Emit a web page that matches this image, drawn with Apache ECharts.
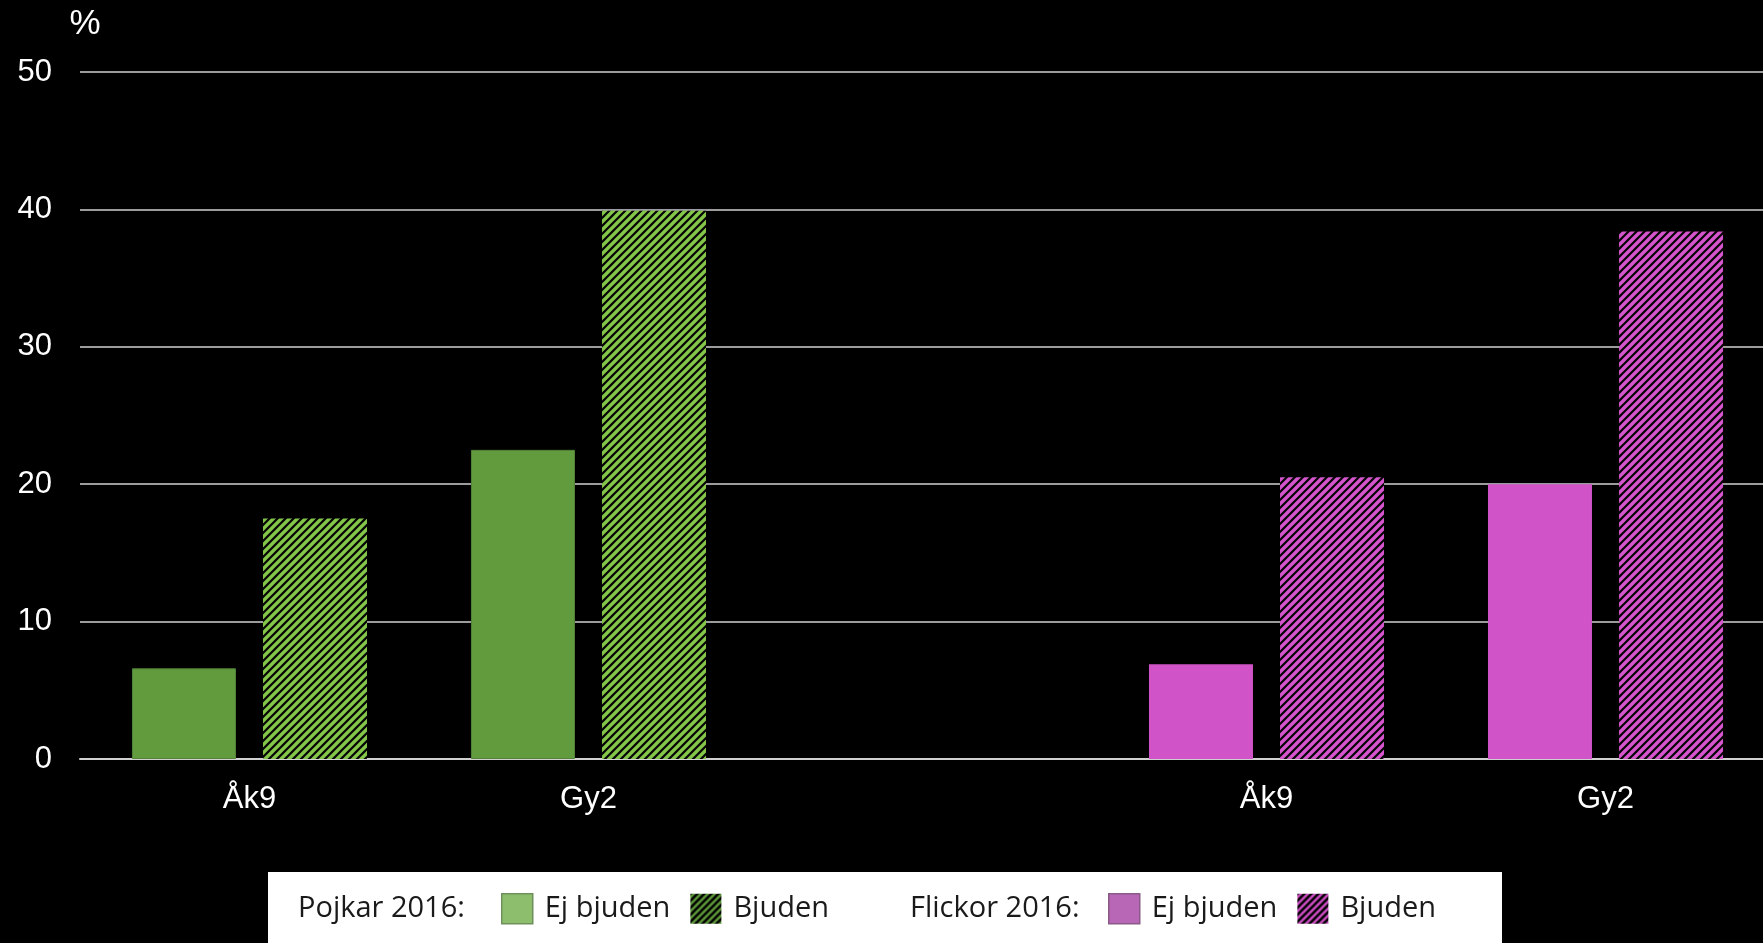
<!DOCTYPE html>
<html>
<head>
<meta charset="utf-8">
<script src="https://cdn.jsdelivr.net/npm/echarts@6/dist/echarts.min.js"></script>
<style>
html,body{margin:0;padding:0;background:#000;overflow:hidden;width:1763px;height:943px;}
#chart{width:1775px;height:943px;}
</style>
</head>
<body>
<div id="chart"></div>
<script>
// ---- data ----
const categories = ['Åk9', 'Gy2', '', 'Åk9', 'Gy2'];
const boysEj     = [6.6, 22.5, null, null, null];
const boysBj     = [17.5, 39.9, null, null, null];
const girlsEj    = [null, null, null, 6.9, 20.0];
const girlsBj    = [null, null, null, 20.5, 38.4];
const legendPrefixes = ['Pojkar 2016:', 'Flickor 2016:'];
const seriesNames = ['Pojkar Ej bjuden', 'Pojkar Bjuden', 'Flickor Ej bjuden', 'Flickor Bjuden'];

// ---- hatch patterns ----
function hatch(fg, bg, size, lw) {
  const c = document.createElement('canvas');
  c.width = size; c.height = size;
  const ctx = c.getContext('2d');
  ctx.fillStyle = bg; ctx.fillRect(0, 0, size, size);
  ctx.strokeStyle = fg; ctx.lineWidth = lw; ctx.lineCap = 'square';
  ctx.beginPath();
  ctx.moveTo(-1, 1); ctx.lineTo(1, -1);
  ctx.moveTo(0, size); ctx.lineTo(size, 0);
  ctx.moveTo(size - 1, size + 1); ctx.lineTo(size + 1, size - 1);
  ctx.stroke();
  return { image: c, repeat: 'repeat' };
}
const greenHatch = hatch('#84c64a', '#050505', 8, 3.4);
const pinkHatch = hatch('#d654cc', '#050505', 8, 3.4);
const greenHatchLeg = hatch('#000000', '#5f9b3a', 7, 2.6);
const pinkHatchLeg = hatch('#000000', '#d04fc7', 7, 2.6);

const axisFont = "'Liberation Sans', Arial, sans-serif";
const legFont = "'Open Sans', sans-serif";

const chart = echarts.init(document.getElementById('chart'));
const legendCommon = {
  orient: 'horizontal',
  itemWidth: 31,
  itemHeight: 30,
  itemGap: 20,
  icon: 'rect',
  selectedMode: false,
  textStyle: { fontFamily: legFont, fontSize: 29, color: '#1a1a1a', padding: [6, 0, 0, 7] },
  formatter: n => n.replace(/^(Pojkar|Flickor) /, '')
};
chart.setOption({
  backgroundColor: '#000',
  animation: false,
  grid: { left: 80, right: 0, top: 72, bottom: 184, containLabel: false },
  graphic: [
    { type: 'rect', z: 0, shape: { x: 268, y: 872, width: 1234, height: 80 }, style: { fill: '#ffffff' } },
    { type: 'text', z: 10, x: 298, y: 909, style: { text: legendPrefixes[0], font: "29px 'Open Sans', sans-serif", fill: '#1a1a1a', verticalAlign: 'middle' } },
    { type: 'text', z: 10, x: 910, y: 909, style: { text: legendPrefixes[1], font: "29px 'Open Sans', sans-serif", fill: '#1a1a1a', verticalAlign: 'middle' } }
  ],
  legend: [
    Object.assign({}, legendCommon, {
      left: 496, top: 888,
      data: [
        { name: seriesNames[0], itemStyle: { color: '#8cbe6e', borderColor: '#6f8f5c', borderWidth: 1.5 } },
        { name: seriesNames[1], itemStyle: { color: greenHatchLeg, borderWidth: 0 } }
      ]
    }),
    Object.assign({}, legendCommon, {
      left: 1103, top: 888,
      data: [
        { name: seriesNames[2], itemStyle: { color: '#b866b6', borderColor: '#8a5a88', borderWidth: 1.5 } },
        { name: seriesNames[3], itemStyle: { color: pinkHatchLeg, borderWidth: 0 } }
      ]
    })
  ],
  xAxis: {
    type: 'category',
    data: categories,
    axisTick: { show: false },
    axisLine: { lineStyle: { color: '#d0d0d0', width: 2 } },
    axisLabel: { color: '#ffffff', fontSize: 31, fontFamily: axisFont, margin: 25, interval: 0 }
  },
  yAxis: {
    type: 'value',
    min: 0, max: 50, interval: 10,
    name: '%',
    nameLocation: 'end',
    nameGap: 30,
    nameTextStyle: { color: '#ffffff', fontSize: 35, fontFamily: axisFont, padding: [0, 0, 0, 10] },
    axisLine: { show: false },
    axisTick: { show: false },
    axisLabel: { color: '#ffffff', fontSize: 31, fontFamily: axisFont, margin: 28 },
    splitLine: { lineStyle: { color: '#d0d0d0', width: 1.5 } }
  },
  series: [
    { name: seriesNames[0], type: 'bar', stack: 'ej', data: boysEj, barWidth: 104, barGap: '26%',
      itemStyle: { color: '#629a3e', borderColor: '#54843a', borderWidth: 1 } },
    { name: seriesNames[1], type: 'bar', stack: 'bj', data: boysBj, barWidth: 104, barGap: '26%',
      itemStyle: { color: greenHatch } },
    { name: seriesNames[2], type: 'bar', stack: 'ej', data: girlsEj, barWidth: 104, barGap: '26%',
      itemStyle: { color: '#d054c7' } },
    { name: seriesNames[3], type: 'bar', stack: 'bj', data: girlsBj, barWidth: 104, barGap: '26%',
      itemStyle: { color: pinkHatch } }
  ]
});
</script>
</body>
</html>
